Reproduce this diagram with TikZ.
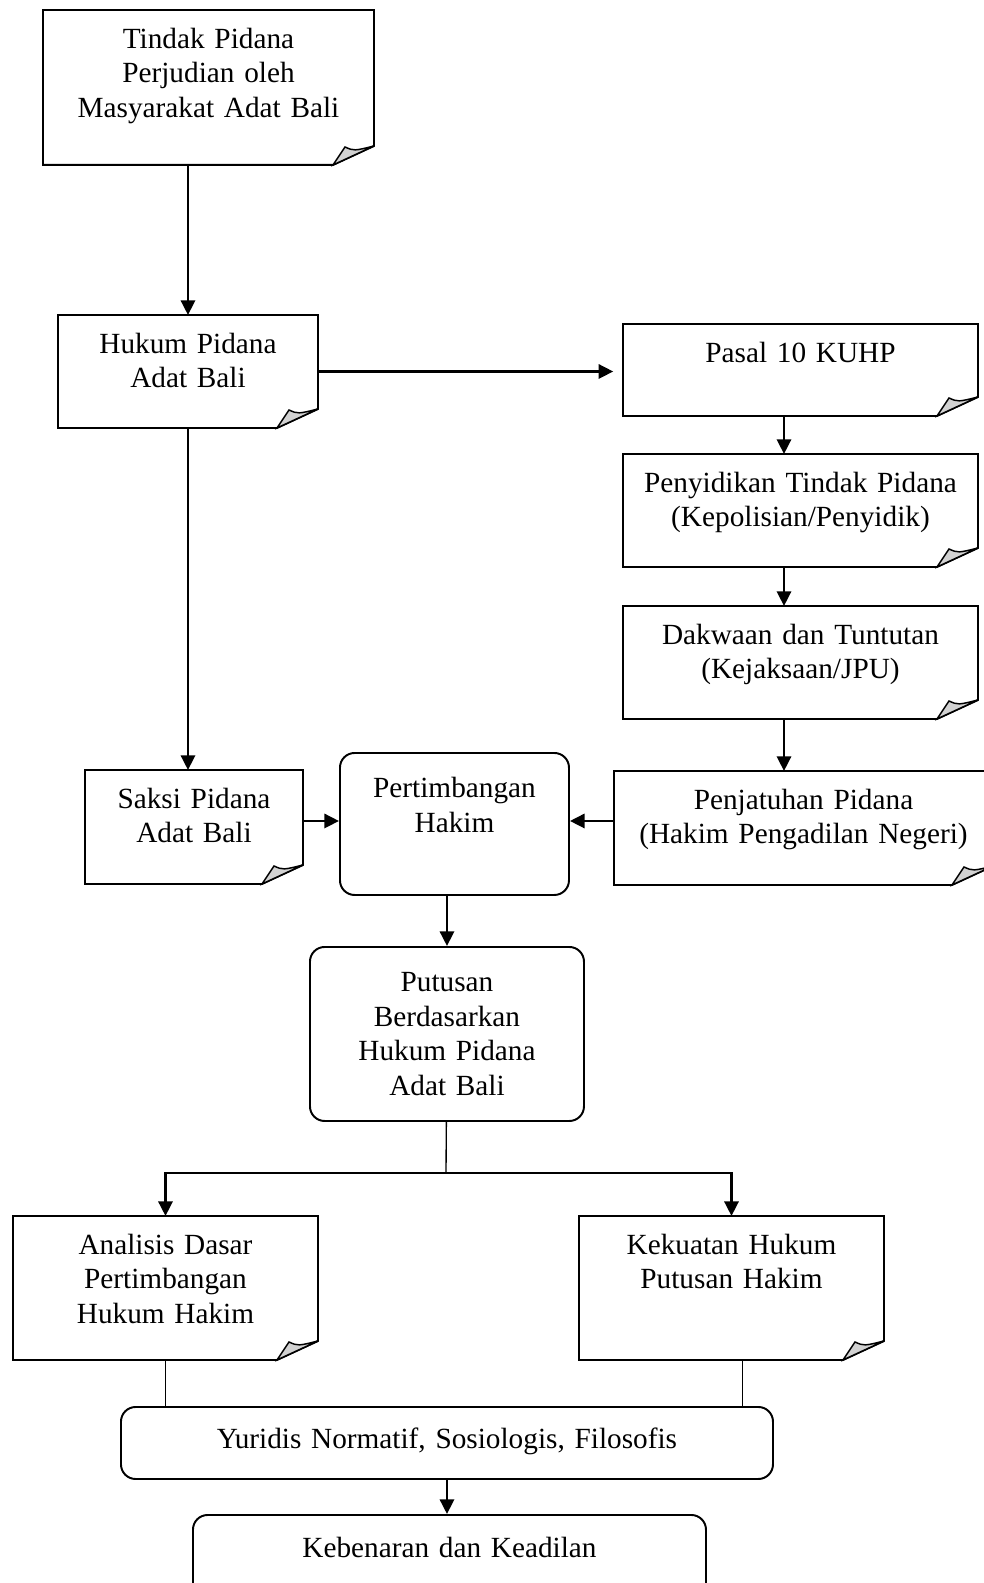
\documentclass[tikz,border=0pt]{standalone}
\usepackage{fontspec}
\setmainfont{Liberation Serif}
\usetikzlibrary{arrows.meta,calc}
\newlength{\unitpx}
\setlength{\unitpx}{0.41pt}

\tikzset{
  docnode/.style={inner sep=0pt, anchor=north west, align=center, text height=38\unitpx},
  roundnode/.style={draw, line width=0.8pt, rounded corners=6pt, inner sep=0pt, anchor=north west, align=center},
  arr/.style={line width=1.1pt, -{Triangle[length=6pt,width=5.8pt]}},
  thinline/.style={line width=0.55pt},
}

\begin{document}
\begin{tikzpicture}[x=0.41pt, y=-0.41pt, font=\fontsize{12}{14.1}\selectfont]
  \useasboundingbox (0,0) rectangle (983,1583);

  % left column
  \node[docnode, text width=330\unitpx, text depth=116\unitpx] (tindak) at (43,10) {Tindak Pidana\\Perjudian oleh\\Masyarakat Adat Bali};
  \node[docnode, text width=259\unitpx, text depth=74\unitpx] (hukum) at (58,315) {Hukum Pidana\\Adat Bali};
  \node[docnode, text width=217\unitpx, text depth=75\unitpx] (saksi) at (85,770) {Saksi Pidana\\Adat Bali};

  % right column
  \node[docnode, text width=354\unitpx, text depth=53\unitpx] (pasal) at (623,324) {Pasal 10 KUHP};
  \node[docnode, text width=354\unitpx, text depth=74\unitpx] (sidik) at (623,454) {Penyidikan Tindak Pidana\\(Kepolisian/Penyidik)};
  \node[docnode, text width=354\unitpx, text depth=74\unitpx] (dakwa) at (623,606) {Dakwaan dan Tuntutan\\(Kejaksaan/JPU)};
  \node[docnode, text width=378\unitpx, text depth=75\unitpx] (jatuh) at (614,771) {Penjatuhan Pidana\\(Hakim Pengadilan Negeri)};

  % middle
  \node[roundnode, text width=229\unitpx, text height=45\unitpx, text depth=97\unitpx] (timbang) at (339,752) {Pertimbangan\\Hakim};
  \node[roundnode, text width=274\unitpx, text height=45\unitpx, text depth=129\unitpx] (putusan) at (309,946) {Putusan\\Berdasarkan\\Hukum Pidana\\Adat Bali};

  % bottom
  \node[docnode, text width=304\unitpx, text depth=105\unitpx] (analisis) at (13,1216) {Analisis Dasar\\Pertimbangan\\Hukum Hakim};
  \node[docnode, text width=304\unitpx, text depth=105\unitpx] (kekuatan) at (579,1216) {Kekuatan Hukum\\Putusan Hakim};
  \node[roundnode, text width=652\unitpx, text height=42\unitpx, text depth=30\unitpx] (yuridis) at (120,1406) {Yuridis Normatif, Sosiologis, Filosofis};
  \node[roundnode, text width=513\unitpx, text height=43\unitpx, text depth=47\unitpx] (benar) at (192,1514) {Kebenaran dan Keadilan};

  % folded paper outlines
  \foreach \n in {tindak,hukum,saksi,pasal,sidik,dakwa,jatuh,analisis,kekuatan} {
    \draw[line width=0.8pt] (\n.north west) -- (\n.north east) -- ($(\n.south east)+(0,-19)$) -- ($(\n.south east)+(-41,0)$) -- (\n.south west) -- cycle;
    \filldraw[fill=gray!35, line width=0.6pt] ($(\n.south east)+(-41,0)$) -- ($(\n.south east)+(-29,-18)$) .. controls ($(\n.south east)+(-20,-14)$) .. ($(\n.south east)+(0,-19)$) -- cycle;
  }

  \coordinate (rcol) at (784,0);
  \coordinate (split) at (446,1173);
  \coordinate (kk) at ($(kekuatan.south)+(11,0)$);
  \coordinate (mid) at ($(timbang.center)+(0,-3)$);

  \draw[arr] (tindak.south -| hukum) -- (hukum);
  \draw[arr, shorten >=4pt] (hukum.east) -- (hukum.east -| pasal.west);
  \draw[arr] (pasal.south -| rcol) -- (sidik.north -| rcol);
  \draw[arr] (sidik.south -| rcol) -- (dakwa.north -| rcol);
  \draw[arr] (dakwa.south -| rcol) -- (jatuh.north -| rcol);
  \draw[arr] (hukum) -- (hukum |- saksi.north);
  \draw[arr] (saksi.east |- mid) -- (timbang.west |- mid);
  \draw[arr] (jatuh.west |- mid) -- (timbang.east |- mid);
  \draw[arr] (timbang.south -| putusan) -- (putusan);
  \draw[thinline] (putusan) -- (split);
  \draw[arr] (split) -| (analisis);
  \draw[arr] (split) -| (kekuatan);
  \draw[thinline] (analisis) -- (analisis |- yuridis.north);
  \draw[thinline] (kk) -- (kk |- yuridis.north);
  \draw[arr] (yuridis) -- (yuridis |- benar.north);
\end{tikzpicture}
\end{document}
